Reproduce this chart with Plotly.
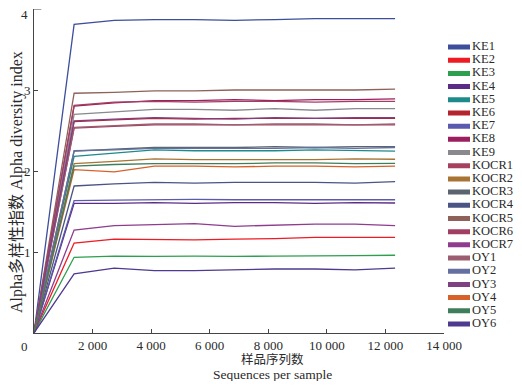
import plotly.graph_objects as go

# ---- data ----
seq = [0, 1370, 2740, 4110, 5480, 6850, 8220, 9590, 10960, 12330]

names = ["KE1", "KE2", "KE3", "KE4", "KE5", "KE6", "KE7", "KE8", "KE9",
         "KOCR1", "KOCR2", "KOCR3", "KOCR4", "KOCR5", "KOCR6", "KOCR7",
         "OY1", "OY2", "OY3", "OY4", "OY5", "OY6"]

colors = ["#3C4E9C", "#ED1C24", "#2E9E4F", "#5B2C86", "#1F8A8A", "#B5242E",
          "#5A5AAE", "#9B1F5E", "#8A8A8E", "#A5415E", "#A77434", "#5B6470",
          "#4B5585", "#8E625A", "#A33E63", "#8E3C8E", "#9B5E70", "#6470A0",
          "#7E3F83", "#D8612A", "#3E7E5A", "#4E3A8E"]

KE1 = [0, 3.81, 3.86, 3.87, 3.87, 3.86, 3.87, 3.88, 3.88, 3.88]
KE2 = [0, 1.11, 1.16, 1.155, 1.15, 1.16, 1.165, 1.18, 1.18, 1.18]
KE3 = [0, 0.935, 0.95, 0.945, 0.95, 0.945, 0.95, 0.95, 0.955, 0.96]
KE4 = [0, 1.60, 1.60, 1.61, 1.60, 1.61, 1.61, 1.60, 1.61, 1.605]
KE5 = [0, 2.18, 2.22, 2.26, 2.25, 2.25, 2.25, 2.26, 2.25, 2.245]
KE6 = [0, 2.61, 2.63, 2.65, 2.64, 2.65, 2.65, 2.65, 2.65, 2.65]
KE7 = [0, 1.635, 1.64, 1.645, 1.65, 1.645, 1.645, 1.65, 1.645, 1.645]
KE8 = [0, 2.80, 2.84, 2.87, 2.87, 2.88, 2.87, 2.88, 2.88, 2.89]
KE9 = [0, 2.70, 2.73, 2.76, 2.76, 2.75, 2.77, 2.75, 2.77, 2.77]
KOCR1 = [0, 2.53, 2.55, 2.57, 2.57, 2.57, 2.57, 2.57, 2.57, 2.57]
KOCR2 = [0, 2.09, 2.12, 2.15, 2.14, 2.14, 2.145, 2.14, 2.15, 2.145]
KOCR3 = [0, 2.245, 2.27, 2.29, 2.29, 2.29, 2.30, 2.29, 2.30, 2.30]
KOCR4 = [0, 1.815, 1.84, 1.86, 1.85, 1.86, 1.86, 1.86, 1.85, 1.87]
KOCR5 = [0, 2.96, 2.97, 2.99, 2.99, 3.00, 3.00, 3.00, 3.00, 3.01]
KOCR6 = [0, 2.81, 2.85, 2.86, 2.85, 2.86, 2.86, 2.85, 2.86, 2.86]
KOCR7 = [0, 1.27, 1.325, 1.337, 1.35, 1.317, 1.333, 1.345, 1.345, 1.325]
OY1 = [0, 2.54, 2.56, 2.58, 2.58, 2.57, 2.58, 2.58, 2.57, 2.58]
OY2 = [0, 2.25, 2.26, 2.28, 2.28, 2.28, 2.28, 2.29, 2.28, 2.29]
OY3 = [0, 2.62, 2.64, 2.66, 2.65, 2.64, 2.66, 2.65, 2.66, 2.66]
OY4 = [0, 2.016, 1.99, 2.06, 2.06, 2.05, 2.06, 2.06, 2.05, 2.06]
OY5 = [0, 2.06, 2.08, 2.09, 2.09, 2.09, 2.10, 2.10, 2.09, 2.095]
OY6 = [0, 0.73, 0.80, 0.77, 0.77, 0.78, 0.79, 0.79, 0.78, 0.80]

series = [KE1, KE2, KE3, KE4, KE5, KE6, KE7, KE8, KE9,
          KOCR1, KOCR2, KOCR3, KOCR4, KOCR5, KOCR6, KOCR7,
          OY1, OY2, OY3, OY4, OY5, OY6]

x_ticks = [2000, 4000, 6000, 8000, 10000, 12000, 14000]
x_ticktext = ["2 000", "4 000", "6 000", "8 000", "10 000", "12 000", "14 000"]
y_ticks = [1, 2, 3, 4]

x_title_cn = "样品序列数"
x_title_en = "Sequences per sample"
y_title = "Alpha多样性指数 Alpha diversity index"

FONT = "Liberation Serif, Times New Roman, Noto Sans CJK SC, serif"
TXT = "#2a2a2a"

# the page body has an 8px margin on every side: work in window pixels
OFF = 8
W, H = 522 - 2 * OFF, 389 - 2 * OFF
PL, PR, PT, PB = 34, 444, 9, 333          # plot area in window pixels
ml, mr, mt, mb = PL - OFF, 0, PT - OFF, H - (PB - OFF)
pw, ph = W - ml - mr, H - mt - mb


def px_x(p):  # window px -> paper fraction
    return (p - OFF - ml) / pw


def px_y(p):
    return 1 - (p - OFF - mt) / ph


fig = go.Figure()
for n, c, v in zip(names, colors, series):
    fig.add_trace(go.Scatter(x=seq, y=v, mode="lines", name=n,
                             line=dict(color=c, width=1.3), showlegend=False))

# custom legend on a secondary pair of axes (x2 in window-pixel units)
LX0, LX1 = 448, W + OFF
n_items = len(names)
for i, (n, c) in enumerate(zip(names, colors)):
    fig.add_trace(go.Scatter(x=[0, 22], y=[i, i], xaxis="x2", yaxis="y2",
                             mode="lines", line=dict(color=c, width=5),
                             showlegend=False, hoverinfo="skip"))
fig.add_trace(go.Scatter(x=[24] * n_items, y=list(range(n_items)),
                         xaxis="x2", yaxis="y2", mode="text", text=names,
                         textposition="middle right", cliponaxis=False,
                         textfont=dict(family=FONT, size=12.5, color=TXT),
                         showlegend=False, hoverinfo="skip"))

leg_top, leg_bot = 47, 324
step = (leg_bot - leg_top) / (n_items - 1)

fig.update_layout(
    width=W, height=H,
    margin=dict(l=ml, r=mr, t=mt, b=mb, autoexpand=False),
    paper_bgcolor="white", plot_bgcolor="white",
    font=dict(family=FONT, size=13, color=TXT),
    xaxis=dict(domain=[0, px_x(PR)], range=[0, 14000], automargin=False,
               tickvals=x_ticks, ticktext=x_ticktext,
               ticks="inside", ticklen=4, tickcolor="#444",
               showline=True, linecolor="#444", linewidth=1,
               showgrid=False, zeroline=False),
    yaxis=dict(domain=[0, 1], range=[0, 4], tickvals=y_ticks[:-1],
               automargin=False,
               ticks="inside", ticklen=4, tickcolor="#444",
               showline=True, linecolor="#444", linewidth=1,
               showgrid=False, zeroline=False),
    xaxis2=dict(domain=[px_x(LX0), px_x(LX1)], range=[0, LX1 - LX0],
                visible=False, anchor="y2", fixedrange=True, automargin=False),
    yaxis2=dict(domain=[px_y(leg_bot + step / 2), px_y(leg_top - step / 2)],
                range=[n_items - 0.5, -0.5], visible=False, anchor="x2",
                fixedrange=True, automargin=False),
    shapes=[dict(type="line", xref="x", yref="y", x0=0, x1=250,
                 y0=y_ticks[-1], y1=y_ticks[-1],
                 line=dict(color="#444", width=1))],
    annotations=[
        dict(text="0", x=0, y=0, xref="x", yref="y", xshift=-10, yshift=-13,
             showarrow=False, font=dict(family=FONT, size=13, color=TXT)),
        dict(text=str(y_ticks[-1]), x=0, y=y_ticks[-1], xref="x", yref="y",
             xshift=-10, yshift=-5, showarrow=False,
             font=dict(family=FONT, size=13, color=TXT)),
        dict(text=x_title_cn, x=px_x(272), y=px_y(359), xref="paper", yref="paper",
             showarrow=False, xanchor="center", yanchor="middle",
             font=dict(family=FONT, size=12.5, color=TXT)),
        dict(text=x_title_en, x=px_x(272), y=px_y(375), xref="paper", yref="paper",
             showarrow=False, xanchor="center", yanchor="middle",
             font=dict(family=FONT, size=13.5, color=TXT)),
        dict(text=y_title, x=px_x(17), y=px_y(182), xref="paper", yref="paper",
             showarrow=False, xanchor="center", yanchor="middle", textangle=-90,
             font=dict(family=FONT, size=16, color=TXT)),
    ],
)

fig.write_html("out.html")
